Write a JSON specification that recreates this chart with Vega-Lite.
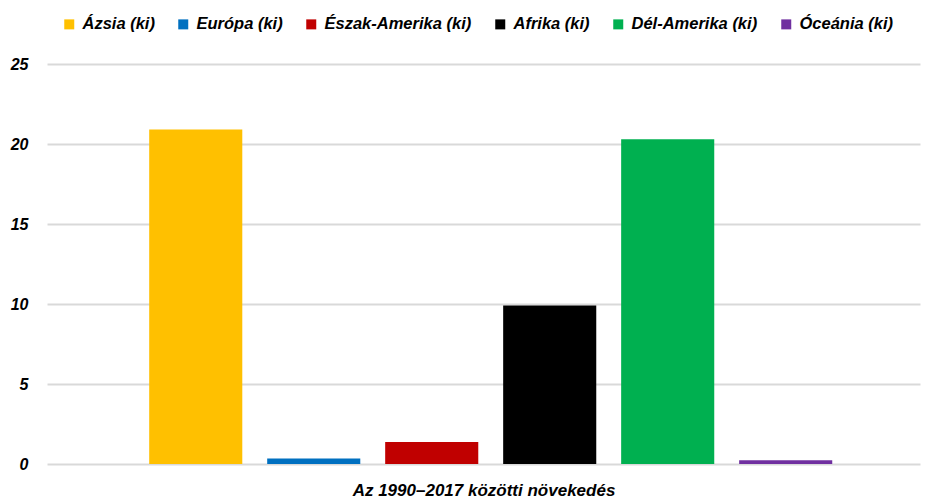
{
  "$schema": "https://vega.github.io/schema/vega-lite/v6.json",
  "width": 873,
  "height": 400,
  "autosize": {"type": "none"},
  "padding": {"left": 47, "top": 64, "right": 5, "bottom": 37},
  "background": "white",
  "data": {
    "values": [
      {"continent": "Ázsia (ki)", "value": 20.9, "order": 1},
      {"continent": "Európa (ki)", "value": 0.35, "order": 2},
      {"continent": "Észak-Amerika (ki)", "value": 1.37, "order": 3},
      {"continent": "Afrika (ki)", "value": 9.9, "order": 4},
      {"continent": "Dél-Amerika (ki)", "value": 20.3, "order": 5},
      {"continent": "Óceánia (ki)", "value": 0.24, "order": 6}
    ]
  },
  "config": {
    "view": {"stroke": null},
    "font": "Liberation Sans"
  },
  "mark": {"type": "bar"},
  "encoding": {
    "x": {
      "field": "continent",
      "type": "nominal",
      "sort": {"field": "order"},
      "scale": {"paddingInner": 0.211, "paddingOuter": 0.805, "align": 0.538},
      "axis": {
        "labels": false,
        "ticks": false,
        "domain": false,
        "title": "Az 1990–2017 közötti növekedés",
        "titleFont": "Liberation Sans",
        "titleFontSize": 17,
        "titleFontWeight": "bold",
        "titleFontStyle": "italic",
        "titleColor": "#000000",
        "titlePadding": 18
      }
    },
    "y": {
      "field": "value",
      "type": "quantitative",
      "scale": {"domain": [0, 25], "nice": false},
      "axis": {
        "values": [0, 5, 10, 15, 20, 25],
        "title": null,
        "domain": false,
        "ticks": false,
        "tickSize": 0,
        "labelPadding": 19,
        "labelFont": "Liberation Sans",
        "labelFontSize": 16,
        "labelFontWeight": "bold",
        "labelFontStyle": "italic",
        "labelColor": "#000000",
        "gridColor": "#d9d9d9",
        "gridWidth": 2,
        "gridOpacity": 1
      }
    },
    "color": {
      "field": "continent",
      "type": "nominal",
      "sort": ["Ázsia (ki)", "Európa (ki)", "Észak-Amerika (ki)", "Afrika (ki)", "Dél-Amerika (ki)", "Óceánia (ki)"],
      "scale": {
        "domain": ["Ázsia (ki)", "Európa (ki)", "Észak-Amerika (ki)", "Afrika (ki)", "Dél-Amerika (ki)", "Óceánia (ki)"],
        "range": ["#FFC000", "#0070C0", "#C00000", "#000000", "#00B050", "#7030A0"]
      },
      "legend": {
        "title": null,
        "orient": "none",
        "direction": "horizontal",
        "legendX": 14,
        "legendY": -48,
        "padding": 0,
        "symbolType": "square",
        "symbolSize": 100,
        "symbolStrokeWidth": 0,
        "symbolOpacity": 1,
        "labelOffset": 5,
        "columnPadding": 20,
        "labelFont": "Liberation Sans",
        "labelFontSize": 16.5,
        "labelFontWeight": "bold",
        "labelFontStyle": "italic",
        "labelColor": "#000000",
        "labelLimit": 400
      }
    }
  }
}
